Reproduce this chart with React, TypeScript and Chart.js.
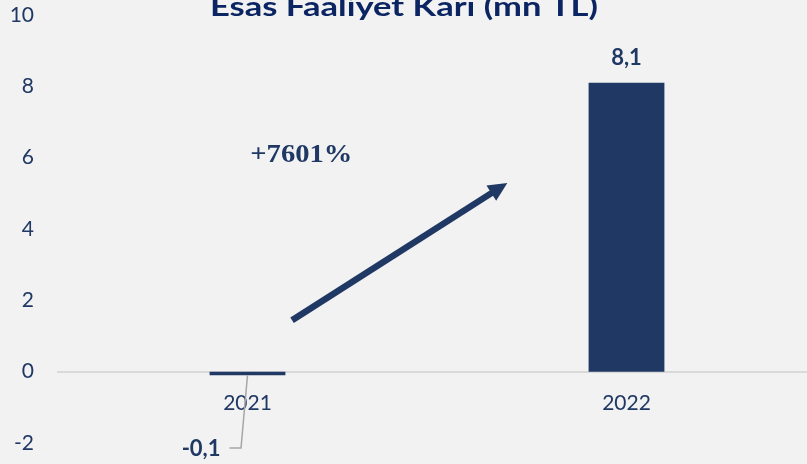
import React, { useEffect, useRef } from "react";
import { Chart, registerables } from "chart.js";

Chart.register(...registerables);

const chartTitle = "Esas Faaliyet Karı (mn TL)";
const categories = ["2021", "2022"];
const values = [-0.1, 8.1];
const valueLabels = ["-0,1", "8,1"];
const yMin = -2;
const yMax = 10;
const yStep = 2;
const growthLabel = "+7601%";
// arrow endpoints: [category fraction, value]
const arrowFrom = [0.1176, 1.44];
const arrowTo = [0.6856, 5.29];
const growthLabelPos = [0.142, 6.08];
const negLabelValue = -2.17;

const NAVY = "#1f3864";
const TITLE_NAVY = "#0b2563";
const BG = "#f2f2f2";

function fitText(ctx: any, text: string, cx: number, y: number, targetW: number) {
  const w = ctx.measureText(text).width;
  const sx = targetW / w;
  ctx.save();
  ctx.translate(cx, y);
  ctx.scale(sx, 1);
  ctx.textAlign = "center";
  ctx.fillText(text, 0, 0);
  ctx.restore();
}

const overlayPlugin = {
  id: "overlay",
  beforeDraw(chart: any) {
    const { ctx, width, height } = chart;
    ctx.save();
    ctx.fillStyle = BG;
    ctx.fillRect(0, 0, width, height);
    ctx.restore();
  },
  afterDraw(chart: any) {
    const { ctx } = chart;
    const xs = chart.scales.x;
    const ys = chart.scales.y;
    const x0 = xs.getPixelForValue(0);
    const x1 = xs.getPixelForValue(1);
    const xAt = (f: number) => x0 + f * (x1 - x0);

    ctx.save();
    // title
    ctx.fillStyle = TITLE_NAVY;
    ctx.font = "bold 26px Lato";
    ctx.textBaseline = "alphabetic";
    fitText(ctx, chartTitle, 404, 16, 388);

    // data labels
    const meta = chart.getDatasetMeta(0);
    meta.data.forEach((bar: any, i: number) => {
      const v = values[i];
      ctx.font = "bold 22px Lato";
      ctx.fillStyle = NAVY;
      ctx.textBaseline = "middle";
      if (v >= 0) {
        ctx.textAlign = "center";
        ctx.fillText(valueLabels[i], bar.x, bar.y - 25);
      } else {
        const ly = ys.getPixelForValue(negLabelValue);
        ctx.strokeStyle = "#a6a6a6";
        ctx.lineWidth = 1.5;
        ctx.beginPath();
        ctx.moveTo(bar.x, bar.y);
        ctx.lineTo(bar.x - 6.5, ly - 1);
        ctx.lineTo(bar.x - 18, ly - 1);
        ctx.stroke();
        ctx.textAlign = "right";
        ctx.fillText(valueLabels[i], bar.x - 27, ly);
      }
    });

    // arrow
    const ax = xAt(arrowFrom[0]);
    const ay = ys.getPixelForValue(arrowFrom[1]);
    const bx = xAt(arrowTo[0]);
    const by = ys.getPixelForValue(arrowTo[1]);
    const ang = Math.atan2(by - ay, bx - ax);
    const headLen = 19;
    const headW = 9;
    const hx = bx - headLen * Math.cos(ang);
    const hy = by - headLen * Math.sin(ang);
    ctx.strokeStyle = "#203864";
    ctx.fillStyle = "#203864";
    ctx.lineWidth = 6.5;
    ctx.lineCap = "butt";
    ctx.beginPath();
    ctx.moveTo(ax, ay);
    ctx.lineTo(hx + 2 * Math.cos(ang), hy + 2 * Math.sin(ang));
    ctx.stroke();
    ctx.beginPath();
    ctx.moveTo(bx, by);
    ctx.lineTo(hx + headW * Math.sin(ang), hy - headW * Math.cos(ang));
    ctx.lineTo(hx - headW * Math.sin(ang), hy + headW * Math.cos(ang));
    ctx.closePath();
    ctx.fill();

    // growth label
    ctx.font = "bold 26px 'Liberation Serif'";
    ctx.fillStyle = NAVY;
    ctx.textBaseline = "middle";
    fitText(ctx, growthLabel, xAt(growthLabelPos[0]), ys.getPixelForValue(growthLabelPos[1]), 102);
    ctx.restore();
  },
};

export default function App() {
  const ref = useRef<HTMLCanvasElement | null>(null);
  useEffect(() => {
    if (!ref.current) return;
    const chart = new Chart(ref.current, {
      type: "bar",
      data: {
        labels: categories,
        datasets: [
          {
            data: values,
            backgroundColor: NAVY,
            borderWidth: 0,
            barPercentage: 0.2,
            categoryPercentage: 1,
          },
        ],
      },
      options: {
        animation: false,
        responsive: false,
        maintainAspectRatio: false,
        layout: { padding: 0 },
        plugins: {
          legend: { display: false },
          title: { display: false },
          tooltip: { enabled: false },
        },
        scales: {
          x: {
            position: { y: 0 } as any,
            grid: { display: true, color: "rgba(0,0,0,0)", drawTicks: false },
            border: { display: true, color: "#d9d9d9", width: 2 },
            ticks: {
              color: NAVY,
              font: { family: "Lato", size: 21 },
              padding: 19,
            },
          },
          y: {
            min: yMin,
            max: yMax,
            grid: { display: false, drawTicks: false },
            border: { display: false },
            afterFit: (scale: any) => {
              scale.width = 58;
              scale.paddingTop = 15;
              scale.paddingBottom = 21;
            },
            ticks: {
              stepSize: yStep,
              color: NAVY,
              font: { family: "Lato", size: 21 },
              padding: 24,
              callback: (v: any) => String(v),
            },
          },
        },
      },
      plugins: [overlayPlugin],
    });
    return () => chart.destroy();
  }, []);
  return (
    <div
      style={{
        position: "fixed",
        left: 0,
        top: 0,
        width: 807,
        height: 464,
        overflow: "hidden",
        background: BG,
      }}
    >
      <canvas ref={ref} width={816} height={464} style={{ width: 816, height: 464, display: "block" }} />
    </div>
  );
}
